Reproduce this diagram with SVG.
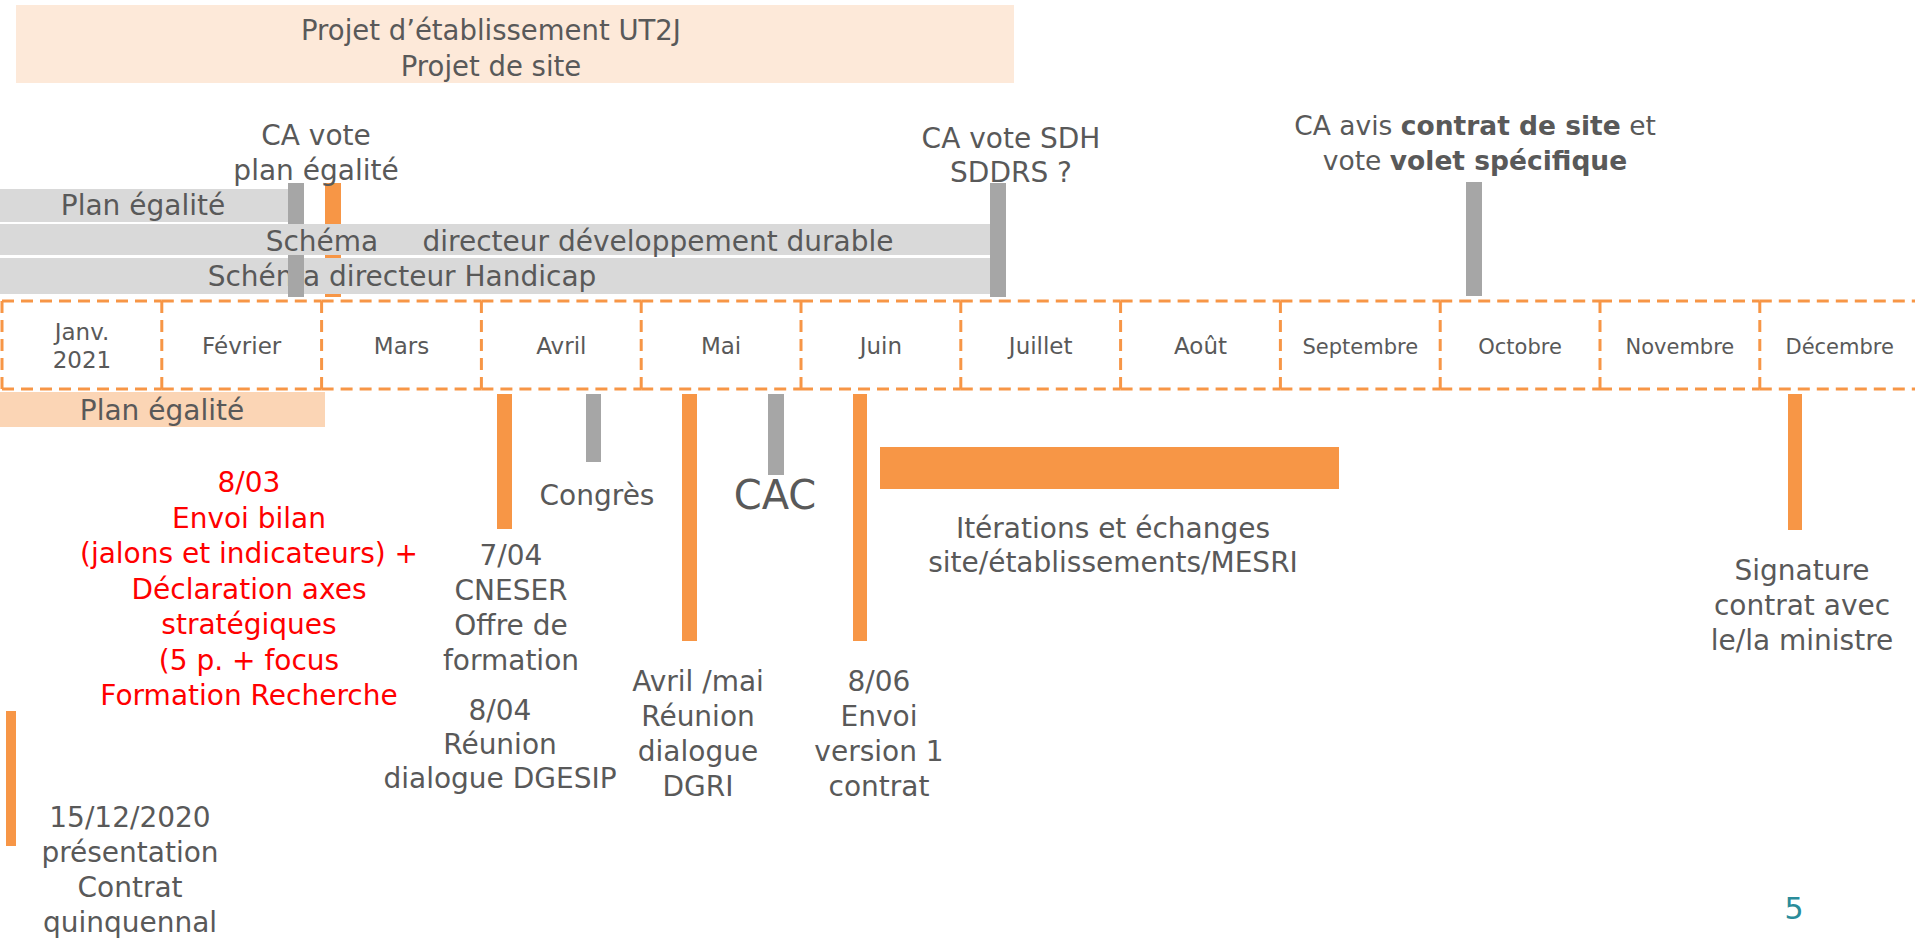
<svg xmlns="http://www.w3.org/2000/svg" width="1915" height="938" viewBox="0 0 1915 938">
<style>
  text { font-family: "DejaVu Sans", "Liberation Sans", sans-serif; fill: #595959; }
  .c { text-anchor: middle; }
  .l28 { font-size: 28px; }
  .m23 { font-size: 23px; text-anchor: middle; }
  .m21 { font-size: 21px; text-anchor: middle; }
  .red { fill: #FF0000; }
  .b { font-weight: bold; }
  .or { fill: #F79646; }
  .gr { fill: #A6A6A6; }
  .lg { fill: #D9D9D9; }
  .dash { fill: none; stroke: #F79646; stroke-width: 3; stroke-dasharray: 12 7; }
</style>
<rect x="0" y="0" width="1915" height="938" fill="#FFFFFF"/>

<!-- Top project box -->
<g id="projet-etablissement">
  <rect x="16" y="5" width="998" height="78" fill="#FDE9D9"/>
  <text class="c" x="491" y="40" font-size="27.5">Projet d’établissement UT2J</text>
  <text class="c" x="491" y="76" font-size="27.5">Projet de site</text>
</g>

<!-- Upper bars -->
<g id="marker-feb-orange"><rect class="or" x="325" y="183" width="16" height="114"/></g>
<g id="plan-egalite-haut">
  <rect class="lg" x="0" y="189" width="290" height="33"/>
  <text class="c l28" x="143" y="215">Plan égalité</text>
</g>
<g id="schema-handicap">
  <rect class="lg" x="0" y="258" width="991" height="36"/>
  <text class="c l28" x="402" y="286">Schéma directeur Handicap</text>
</g>
<g id="marker-feb-grey"><rect class="gr" x="288" y="183" width="16" height="114"/></g>
<g id="schema-developpement-durable">
  <rect class="lg" x="0" y="224" width="991" height="31"/>
  <text class="c l28" x="322" y="251">Schéma</text>
  <text class="c l28" x="658" y="251">directeur développement durable</text>
</g>

<g id="ca-vote-plan-egalite">
  <text class="c l28" x="316" y="145">CA vote</text>
  <text class="c l28" x="316" y="180">plan égalité</text>
</g>
<g id="ca-vote-sdh">
  <rect class="gr" x="990" y="183" width="16" height="114"/>
  <text class="c l28" x="1011" y="148">CA vote SDH</text>
  <text class="c l28" x="1011" y="182">SDDRS ?</text>
</g>
<g id="ca-avis-contrat">
  <rect class="gr" x="1466" y="182" width="16" height="114"/>
  <text class="c" x="1475" y="135" font-size="26.5">CA avis <tspan class="b">contrat de site</tspan> et</text>
  <text class="c" x="1475" y="170" font-size="26.5">vote <tspan class="b">volet spécifique</tspan></text>
</g>

<!-- Month timeline -->
<g id="months">
  <g id="m-jan"><path class="dash" d="M2 301 H161.8 M2 301 V389 M2 389 H161.8"/>
    <text class="m23" x="82" y="340">Janv.</text><text class="m23" x="82" y="368">2021</text></g>
  <g id="m-feb"><path class="dash" d="M161.8 301 H321.6 M161.8 301 V389 M161.8 389 H321.6"/>
    <text class="m23" x="241.7" y="354">Février</text></g>
  <g id="m-mar"><path class="dash" d="M321.6 301 H481.4 M321.6 301 V389 M321.6 389 H481.4"/>
    <text class="m23" x="401.5" y="354">Mars</text></g>
  <g id="m-apr"><path class="dash" d="M481.4 301 H641.2 M481.4 301 V389 M481.4 389 H641.2"/>
    <text class="m23" x="561.3" y="354">Avril</text></g>
  <g id="m-may"><path class="dash" d="M641.2 301 H801 M641.2 301 V389 M641.2 389 H801"/>
    <text class="m23" x="721.1" y="354">Mai</text></g>
  <g id="m-jun"><path class="dash" d="M801 301 H960.8 M801 301 V389 M801 389 H960.8"/>
    <text class="m23" x="880.9" y="354">Juin</text></g>
  <g id="m-jul"><path class="dash" d="M960.8 301 H1120.6 M960.8 301 V389 M960.8 389 H1120.6"/>
    <text class="m23" x="1040.7" y="354">Juillet</text></g>
  <g id="m-aug"><path class="dash" d="M1120.6 301 H1280.4 M1120.6 301 V389 M1120.6 389 H1280.4"/>
    <text class="m23" x="1200.5" y="354">Août</text></g>
  <g id="m-sep"><path class="dash" d="M1280.4 301 H1440.2 M1280.4 301 V389 M1280.4 389 H1440.2"/>
    <text class="m21" x="1360.3" y="354">Septembre</text></g>
  <g id="m-oct"><path class="dash" d="M1440.2 301 H1600 M1440.2 301 V389 M1440.2 389 H1600"/>
    <text class="m21" x="1520.1" y="354">Octobre</text></g>
  <g id="m-nov"><path class="dash" d="M1600 301 H1759.8 M1600 301 V389 M1600 389 H1759.8"/>
    <text class="m21" x="1679.9" y="354">Novembre</text></g>
  <g id="m-dec"><path class="dash" d="M1759.8 301 H1919.6 M1759.8 301 V389 M1759.8 389 H1919.6"/>
    <text class="m21" x="1839.7" y="354">Décembre</text></g>
</g>

<!-- Lower items -->
<g id="plan-egalite-bas">
  <rect x="0" y="392" width="325" height="35" fill="#FBD5B5"/>
  <text class="c l28" x="162" y="420">Plan égalité</text>
</g>

<g id="envoi-bilan">
  <text class="c l28 red" x="249" y="492">8/03</text>
  <text class="c l28 red" x="249" y="527.5">Envoi bilan</text>
  <text class="c l28 red" x="249" y="563">(jalons et indicateurs) +</text>
  <text class="c l28 red" x="249" y="598.5">Déclaration axes</text>
  <text class="c l28 red" x="249" y="634">stratégiques</text>
  <text class="c l28 red" x="249" y="669.5">(5 p. + focus</text>
  <text class="c l28 red" x="249" y="705">Formation Recherche</text>
</g>

<g id="cneser">
  <rect class="or" x="497" y="394" width="15" height="135"/>
  <text class="c l28" x="511" y="565">7/04</text>
  <text class="c l28" x="511" y="600">CNESER</text>
  <text class="c l28" x="511" y="635">Offre de</text>
  <text class="c l28" x="511" y="670">formation</text>
</g>

<g id="dgesip">
  <text class="c l28" x="500" y="720">8/04</text>
  <text class="c l28" x="500" y="754">Réunion</text>
  <text class="c l28" x="500" y="788">dialogue DGESIP</text>
</g>

<g id="congres">
  <rect class="gr" x="586" y="394" width="15" height="68"/>
  <text class="c l28" x="597" y="505">Congrès</text>
</g>

<g id="dgri">
  <rect class="or" x="682" y="394" width="15" height="247"/>
  <text class="c l28" x="698" y="691">Avril /mai</text>
  <text class="c l28" x="698" y="726">Réunion</text>
  <text class="c l28" x="698" y="761">dialogue</text>
  <text class="c l28" x="698" y="796">DGRI</text>
</g>

<g id="cac">
  <rect class="gr" x="768" y="394" width="16" height="81"/>
  <text class="c" x="775" y="509" font-size="40">CAC</text>
</g>

<g id="envoi-version1">
  <rect class="or" x="853" y="394" width="14" height="247"/>
  <text class="c l28" x="879" y="691">8/06</text>
  <text class="c l28" x="879" y="726">Envoi</text>
  <text class="c l28" x="879" y="761">version 1</text>
  <text class="c l28" x="879" y="796">contrat</text>
</g>

<g id="iterations">
  <rect class="or" x="880" y="447" width="459" height="42"/>
  <text class="c l28" x="1113" y="538">Itérations et échanges</text>
  <text class="c l28" x="1113" y="572">site/établissements/MESRI</text>
</g>

<g id="signature">
  <rect class="or" x="1788" y="394" width="14" height="136"/>
  <text class="c l28" x="1802" y="580">Signature</text>
  <text class="c l28" x="1802" y="615">contrat avec</text>
  <text class="c l28" x="1802" y="650">le/la ministre</text>
</g>

<g id="presentation-contrat">
  <rect class="or" x="6" y="711" width="10" height="135"/>
  <text class="c l28" x="130" y="827">15/12/2020</text>
  <text class="c l28" x="130" y="862">présentation</text>
  <text class="c l28" x="130" y="897">Contrat</text>
  <text class="c l28" x="130" y="932">quinquennal</text>
</g>

<g id="page-number">
  <text class="c" x="1794" y="919" font-size="30" style="fill:#2A8C9A">5</text>
</g>
</svg>
